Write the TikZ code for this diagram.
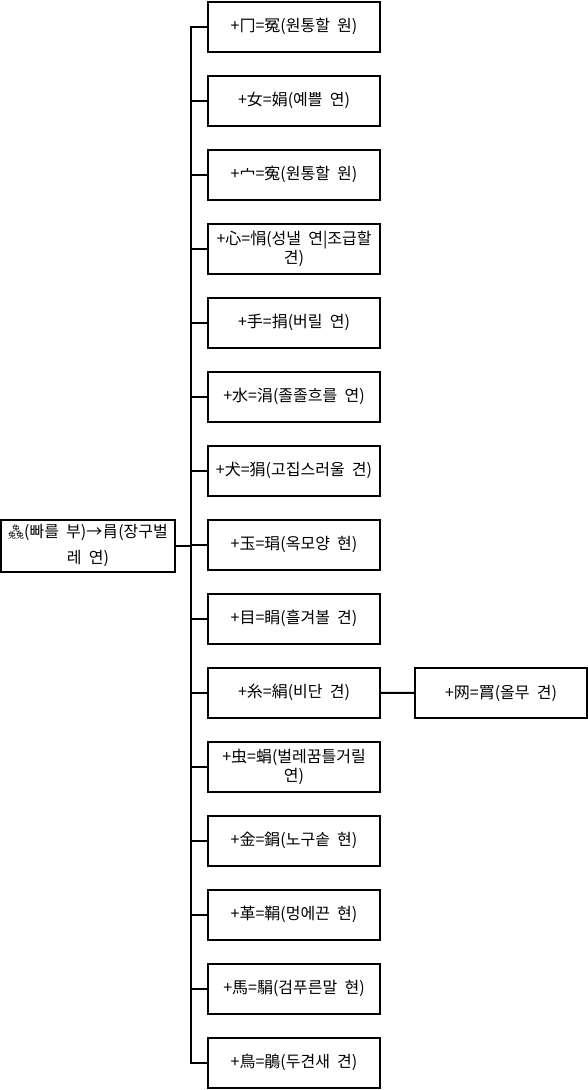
\documentclass[tikz,border=0pt]{standalone}
\usepackage{fontspec}
\setmainfont[WordSpace=2]{Noto Sans CJK KR}

% three rabbits stacked, as the root glyph is printed
\newcommand\sambu{\raisebox{-0.08em}{\scalebox{0.5}{\vbox{\offinterlineskip
  \hbox to 2em{\hss 兔\hss}\hbox{兔兔}}}}}

\begin{document}
\begin{tikzpicture}[x=0.75pt, y=-0.75pt, line join=miter]

% ------------------------------------------------
% Styles
% ------------------------------------------------
\tikzset{
    box/.style={draw, line width=1.5pt, minimum width=129pt, minimum height=37.5pt,
        inner sep=1pt, align=center, font=\fontsize{12}{14.5}\selectfont},
    rootbox/.style={box, minimum width=130pt, minimum height=39pt,
        font=\fontsize{12}{19.5}\selectfont},
    link/.style={line width=1.5pt},
}

\useasboundingbox (0,0) rectangle (588,1090);

% ------------------------------------------------
% Root and children
% ------------------------------------------------
\node[rootbox] (root) at (88,545.5) {\sambu(빠를 부)→肙(장구벌\\레 연)};

\foreach \i/\txt in {
    1/{+冂=冤(원통할 원)},
    2/{+女=娟(예쁠 연)},
    3/{+宀=寃(원통할 원)},
    4/{+心=悁(성낼 연|조급할\\견)},
    5/{+手=捐(버릴 연)},
    6/{+水=涓(졸졸흐를 연)},
    7/{+犬=狷(고집스러울 견)},
    8/{+玉=琄(옥모양 현)},
    9/{+目=睊(흘겨볼 견)},
    10/{+糸=絹(비단 견)},
    11/{+虫=蜎(벌레꿈틀거릴\\연)},
    12/{+金=鋗(노구솥 현)},
    13/{+革=鞙(멍에끈 현)},
    14/{+馬=駽(검푸른말 현)},
    15/{+鳥=鵑(두견새 견)}}{
    \pgfmathsetmacro\yy{26.7+74*(\i-1)}
    \node[box] (c\i) at (294,\yy) {\txt};
}

\node[box] (g1) at (501,693) {+网=罥(올무 견)};

% ------------------------------------------------
% Connectors
% ------------------------------------------------
\coordinate (spine) at (190.7,0);

\draw[link] (c1.west) -- (c1.west -| spine) -- (c15.west -| spine) -- (c15.west);
\foreach \i in {2,...,14}{
    \draw[link] (c\i.west) -- (c\i.west -| spine);
}
\draw[link] (root.east) -- (root.east -| spine);
\draw[link] (c10) -- (g1);

\end{tikzpicture}
\end{document}
